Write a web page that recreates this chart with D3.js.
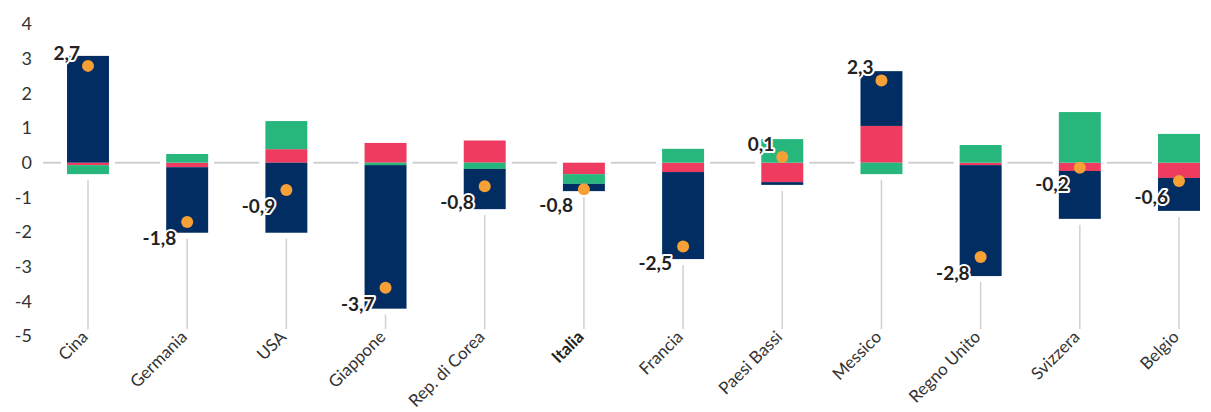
<!DOCTYPE html>
<html><head><meta charset="utf-8">
<script src="https://cdn.jsdelivr.net/npm/d3@7"></script>
<style>body{margin:0;background:#fff;font-family:Lato,"Noto Sans",sans-serif}</style>
</head><body>
<svg id="chart" width="1211" height="412"></svg>
<script>
const categories = ["Cina","Germania","USA","Giappone","Rep. di Corea","Italia","Francia","Paesi Bassi","Messico","Regno Unito","Svizzera","Belgio"];
const redValues   = [-0.07, -0.13, 0.39, 0.57, 0.64, -0.33, -0.27, -0.56, 1.06, -0.07, -0.24, -0.44];
const greenValues = [-0.26, 0.25, 0.81, -0.07, -0.18, -0.28, 0.40, 0.68, -0.33, 0.51, 1.46, 0.83];
const navyValues  = [3.08, -1.89, -2.02, -4.14, -1.16, -0.21, -2.51, -0.08, 1.58, -3.20, -1.38, -0.95];
const totals      = [2.72, -1.78, -0.86, -3.68, -0.75, -0.84, -2.49, 0.09, 2.30, -2.79, -0.22, -0.60];
const yTicks = [4, 3, 2, 1, 0, -1, -2, -3, -4, -5];
const highlighted = "Italia";

const colors = {red: "#ee3b5f", green: "#27b67b", navy: "#022d63"};
const dotColor = "#f6a035";
const gridColor = "#d0d0d0";

const svg = d3.select("#chart");
const x = d3.scaleBand().domain(categories).range([38.4, 1228.6]).paddingInner(0.577).paddingOuter(0.2885);
const y = d3.scaleLinear().domain([-5, 4]).range([336.05, 24.0]);

const rows = categories.map((c, i) => ({cat: c, red: redValues[i], green: greenValues[i], navy: navyValues[i], total: totals[i]}));
const keys = ["red", "green", "navy"];
const series = d3.stack().keys(keys).offset(d3.stackOffsetDiverging)(rows);

const fmt = d3.formatLocale({decimal: ",", thousands: ".", grouping: [3], currency: ["", "€"], minus: "-"}).format(".1f");

// y axis labels
svg.append("g").selectAll("text").data(yTicks).join("text")
  .attr("x", 32).attr("y", d => y(d)).attr("dy", "0.35em")
  .attr("text-anchor", "end").attr("font-size", 18).attr("fill", "#333")
  .text(d => d);

// zero line
svg.append("line").attr("x1", 43).attr("x2", 1200).attr("y1", y(0)).attr("y2", y(0))
  .attr("stroke", gridColor).attr("stroke-width", 2);

// vertical connector lines
svg.append("g").selectAll("line").data(categories).join("line")
  .attr("x1", d => x(d) + x.bandwidth() / 2).attr("x2", d => x(d) + x.bandwidth() / 2)
  .attr("y1", y(0)).attr("y2", 329)
  .attr("stroke", gridColor).attr("stroke-width", 1.5);

// white halo behind bars
const extents = rows.map((r, i) => {
  const vals = series.map(s => s[i]).flat();
  return {cat: r.cat, lo: d3.min(vals), hi: d3.max(vals)};
});
svg.append("g").selectAll("rect").data(extents).join("rect")
  .attr("x", d => x(d.cat) - 6).attr("width", x.bandwidth() + 12)
  .attr("y", d => y(d.hi) - 6).attr("height", d => y(d.lo) - y(d.hi) + 12)
  .attr("fill", "#fff");

// bars
svg.append("g").selectAll("g").data(series).join("g")
  .attr("fill", s => colors[s.key])
  .selectAll("rect").data(s => s).join("rect")
  .attr("x", d => x(d.data.cat)).attr("width", x.bandwidth())
  .attr("y", d => y(Math.max(d[0], d[1])))
  .attr("height", d => Math.abs(y(d[0]) - y(d[1])));

// dots
const dotLift = 2.5;
svg.append("g").selectAll("circle").data(rows).join("circle")
  .attr("cx", d => x(d.cat) + x.bandwidth() / 2)
  .attr("cy", d => y(d.total) - dotLift)
  .attr("r", 6).attr("fill", dotColor);

// dot labels
svg.append("g").selectAll("text").data(rows).join("text")
  .attr("x", d => x(d.cat) + x.bandwidth() / 2 - (d.total >= 0 ? 8 : 11))
  .attr("y", d => y(d.total) - dotLift + (d.total >= 0 ? -6 : 23))
  .attr("text-anchor", "end").attr("font-size", 19).attr("font-weight", 700)
  .attr("fill", "#222").attr("stroke", "#fff").attr("stroke-width", 4)
  .attr("stroke-linejoin", "round").attr("paint-order", "stroke")
  .text(d => fmt(d.total));

// category labels
svg.append("g").selectAll("text").data(categories).join("text")
  .attr("transform", d => `translate(${x(d) + x.bandwidth() / 2 + 1},338) rotate(-45)`)
  .attr("text-anchor", "end").attr("font-size", 17)
  .attr("font-weight", d => d === highlighted ? 700 : 400)
  .attr("fill", d => d === highlighted ? "#222" : "#333")
  .text(d => d);
</script>
</body></html>
